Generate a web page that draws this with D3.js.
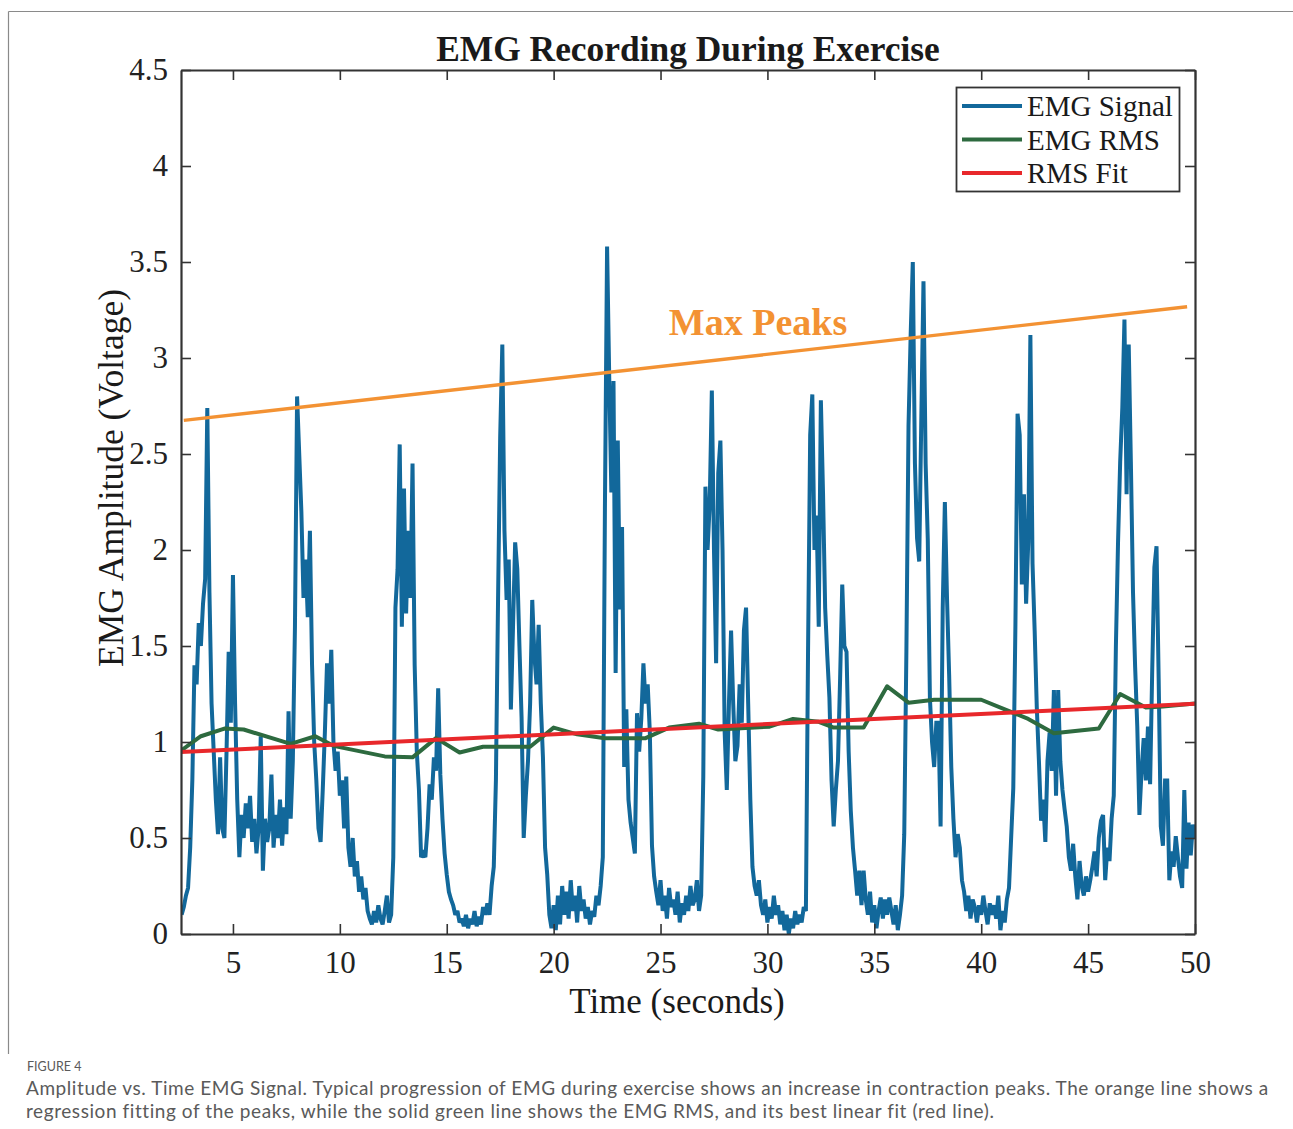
<!DOCTYPE html>
<html>
<head>
<meta charset="utf-8">
<script src="https://cdn.jsdelivr.net/npm/d3@7"></script>
<style>
  html, body { margin: 0; padding: 0; background: #ffffff; }
  svg { display: block; }
  .serif { font-family: "Liberation Serif", "Times New Roman", Times, serif; }
  .caption { font-family: Lato, "Open Sans", "Noto Sans", sans-serif; fill: #5a5a5a; }
</style>
</head>
<body>
<svg id="chart" width="1293" height="1129"></svg>
<script>
// ---- data -------------------------------------------------------------
// EMG signal sampled every 0.1 s starting at 2.6 s (amplitude in volts)
const emgStart = 2.6;
const emgStep = 0.1;
const emgSignal = [
  0.10, 0.14, 0.20, 0.24,
  0.45, 0.80, 1.40, 1.30, 1.62, 1.50, 1.72, 1.85, 2.74, 1.78,   // 3 s
  1.20, 0.95, 0.70, 0.52, 0.92, 0.55, 0.50, 0.95, 1.47, 1.10,   // 4 s
  1.87, 1.20, 0.70, 0.40, 0.62, 0.50, 0.68, 0.55, 0.72, 0.48,   // 5 s
  0.60, 0.42, 0.55, 1.03, 0.33, 0.60, 0.48, 0.55, 0.83, 0.45,   // 6 s
  0.62, 0.50, 0.70, 0.46, 0.66, 0.52, 1.16, 0.60, 0.90, 1.60,   // 7 s
  2.80, 2.50, 2.20, 1.75, 1.95, 1.65, 2.10, 1.40, 1.00, 0.80,   // 8 s
  0.55, 0.48, 0.75, 1.05, 1.41, 1.20, 1.48, 1.00, 0.85, 0.95,   // 9 s
  0.72, 0.80, 0.55, 0.82, 0.45, 0.35, 0.50, 0.30, 0.38, 0.22,   // 10 s
  0.30, 0.18, 0.24, 0.12, 0.08, 0.05, 0.12, 0.06, 0.15, 0.08,   // 11 s
  0.05, 0.12, 0.20, 0.06, 0.10, 0.40, 1.70, 1.90, 2.55, 1.60,   // 12 s
  2.32, 1.67, 2.10, 1.75, 2.45, 1.40, 0.95, 0.75, 0.40, 0.42,   // 13 s
  0.40, 0.55, 0.78, 0.70, 0.92, 0.85, 1.28, 0.83, 0.60, 0.42,   // 14 s
  0.31, 0.22, 0.18, 0.15, 0.10, 0.12, 0.06, 0.08, 0.04, 0.10,   // 15 s
  0.03, 0.08, 0.05, 0.12, 0.04, 0.09, 0.05, 0.14, 0.10, 0.16,   // 16 s
  0.10, 0.25, 0.35, 0.80, 1.74, 2.59, 3.07, 2.10, 1.74, 1.95,   // 17 s
  1.17, 1.60, 2.04, 1.90, 1.50, 1.13, 0.50, 0.72, 0.90, 1.20,   // 18 s
  1.74, 1.45, 1.30, 1.61, 1.20, 0.92, 0.45, 0.31, 0.10, 0.03,   // 19 s
  0.15, 0.02, 0.20, 0.05, 0.25, 0.10, 0.22, 0.08, 0.28, 0.12,   // 20 s
  0.20, 0.06, 0.25, 0.12, 0.18, 0.08, 0.14, 0.05, 0.12, 0.09,   // 21 s
  0.20, 0.15, 0.25, 0.40, 2.24, 3.58, 2.90, 2.30, 2.88, 1.36,   // 22 s
  2.57, 1.69, 2.12, 0.87, 1.17, 0.70, 0.58, 0.50, 0.42, 1.15,   // 23 s
  0.95, 1.12, 1.41, 1.20, 1.30, 1.05, 0.46, 0.30, 0.22, 0.15,   // 24 s
  0.28, 0.12, 0.20, 0.08, 0.24, 0.14, 0.18, 0.10, 0.22, 0.06,   // 25 s
  0.16, 0.10, 0.20, 0.12, 0.25, 0.15, 0.18, 0.28, 0.12, 0.20,   // 26 s
  0.82, 2.33, 2.00, 2.24, 2.83, 2.00, 1.41, 2.40, 2.57, 2.00,   // 27 s
  1.05, 0.75, 1.20, 1.58, 1.20, 0.90, 0.98, 1.30, 1.10, 1.58,   // 28 s
  1.70, 1.20, 0.70, 0.35, 0.25, 0.20, 0.28, 0.15, 0.10, 0.18,   // 29 s
  0.06, 0.14, 0.08, 0.20, 0.10, 0.15, 0.05, 0.12, 0.02, 0.10,   // 30 s
  0.00, 0.08, 0.03, 0.12, 0.05, 0.10, 0.06, 0.14, 0.12, 1.47,   // 31 s
  2.60, 2.81, 2.00, 2.18, 1.60, 2.78, 2.30, 1.70, 1.45, 1.23,   // 32 s
  0.80, 0.56, 0.75, 0.90, 1.33, 1.82, 1.50, 1.47, 0.95, 0.64,   // 33 s
  0.45, 0.33, 0.20, 0.33, 0.15, 0.33, 0.18, 0.10, 0.22, 0.06,   // 34 s
  0.15, 0.03, 0.12, 0.19, 0.08, 0.18, 0.10, 0.19, 0.12, 0.05,   // 35 s
  0.15, 0.02, 0.10, 0.20, 0.52, 1.47, 2.65, 3.12, 3.50, 2.45,   // 36 s
  2.06, 1.94, 2.70, 3.40, 2.45, 2.06, 1.23, 1.00, 0.87, 1.10,   // 37 s
  1.10, 0.56, 1.70, 2.25, 1.75, 1.35, 0.87, 0.60, 0.40, 0.52,   // 38 s
  0.45, 0.28, 0.22, 0.12, 0.20, 0.08, 0.18, 0.14, 0.06, 0.15,   // 39 s
  0.10, 0.20, 0.12, 0.05, 0.16, 0.10, 0.15, 0.08, 0.20, 0.02,   // 40 s
  0.12, 0.06, 0.18, 0.24, 0.50, 0.76, 1.61, 2.71, 2.60, 1.82,   // 41 s
  2.29, 1.72, 2.04, 3.12, 1.93, 1.58, 1.18, 0.90, 0.59, 0.70,   // 42 s
  0.48, 0.90, 1.05, 0.85, 1.27, 0.72, 1.27, 0.90, 0.75, 0.65,   // 43 s
  0.56, 0.40, 0.33, 0.47, 0.30, 0.18, 0.38, 0.25, 0.20, 0.30,   // 44 s
  0.22, 0.28, 0.35, 0.43, 0.30, 0.50, 0.59, 0.62, 0.28, 0.45,   // 45 s
  0.38, 0.60, 0.72, 1.50, 2.04, 2.46, 2.74, 3.20, 2.29, 3.07,   // 46 s
  2.46, 1.78, 1.39, 1.08, 0.62, 0.85, 1.02, 0.80, 1.08, 0.78,   // 47 s
  1.38, 1.91, 2.02, 1.33, 0.56, 0.46, 0.80, 0.80, 0.28, 0.43,   // 48 s
  0.35, 0.51, 0.40, 0.30, 0.24, 0.75, 0.34, 0.58, 0.41, 0.57,   // 49 s
  0.50
];

// windowed RMS of the signal: [time (s), amplitude (V)]
const rmsTimes  = [2.57, 3.5, 4.6, 5.5, 7.7, 8.85, 9.7, 12.1, 13.4, 14.5, 15.6, 16.7, 18.9, 20.0, 21.1, 22.4, 24.3, 25.4, 26.8, 27.7, 30.1, 31.2, 32.4, 33.1, 34.5, 35.6, 36.6, 37.8, 40.0, 42.2, 43.4, 45.5, 46.5, 47.7, 48.5, 50.0];
const rmsValues = [0.955, 1.03, 1.07, 1.065, 0.99, 1.03, 0.98, 0.925, 0.92, 1.02, 0.945, 0.975, 0.975, 1.075, 1.04, 1.02, 1.02, 1.075, 1.095, 1.065, 1.08, 1.12, 1.105, 1.075, 1.075, 1.29, 1.205, 1.22, 1.22, 1.12, 1.045, 1.07, 1.25, 1.18, 1.185, 1.20];

// linear fit of the RMS curve (end points)
const rmsFitTimes  = [2.57, 50.0];
const rmsFitValues = [0.948, 1.199];

// regression through the contraction peaks (end points)
const peakFitTimes  = [2.7, 49.63];
const peakFitValues = [2.675, 3.267];

// axes
const xDomain = [2.57, 50];
const yDomain = [0, 4.5];
const xTicks = [5, 10, 15, 20, 25, 30, 35, 40, 45, 50];
const yTicks = [0, 0.5, 1, 1.5, 2, 2.5, 3, 3.5, 4, 4.5];

const legendLabels = ["EMG Signal", "EMG RMS", "RMS Fit"];
const titleText = "EMG Recording During Exercise";
const xLabel = "Time (seconds)";
const yLabel = "EMG Amplitude (Voltage)";
const peakLabel = "Max Peaks";
const captionHead = "FIGURE 4";
const captionLines = [
  "Amplitude vs. Time EMG Signal. Typical progression of EMG during exercise shows an increase in contraction peaks. The orange line shows a",
  "regression fitting of the peaks, while the solid green line shows the EMG RMS, and its best linear fit (red line)."
];

// ---- styling ----------------------------------------------------------
const colors = {
  signal: "#12689b",
  rms: "#2d6a3f",
  fit: "#e8282b",
  peaks: "#f39233",
  axis: "#333333",
  text: "#1a1a1a"
};

const plot = { left: 181, right: 1195, top: 70, bottom: 934 };

// ---- drawing ----------------------------------------------------------
const svg = d3.select("#chart");

// figure frame (top and left rules)
svg.append("line").attr("x1", 8.5).attr("x2", 1293).attr("y1", 11.5).attr("y2", 11.5)
  .attr("stroke", "#8a8a8a").attr("stroke-width", 1.2);
svg.append("line").attr("x1", 8.5).attr("x2", 8.5).attr("y1", 11.5).attr("y2", 1054)
  .attr("stroke", "#8a8a8a").attr("stroke-width", 1.2);

const x = d3.scaleLinear().domain(xDomain).range([plot.left, plot.right]);
const y = d3.scaleLinear().domain(yDomain).range([plot.bottom, plot.top]);

const signalPoints = emgSignal.map((v, i) => [+(emgStart + i * emgStep).toFixed(2), v]);
const rmsPoints = rmsTimes.map((t, i) => [t, rmsValues[i]]);
const fitPoints = rmsFitTimes.map((t, i) => [t, rmsFitValues[i]]);
const peakPoints = peakFitTimes.map((t, i) => [t, peakFitValues[i]]);

const line = d3.line().x(d => x(d[0])).y(d => y(d[1]));

svg.append("defs").append("clipPath").attr("id", "plotClip")
  .append("rect")
  .attr("x", plot.left).attr("y", plot.top)
  .attr("width", plot.right - plot.left).attr("height", plot.bottom - plot.top);

const marks = svg.append("g").attr("clip-path", "url(#plotClip)");

marks.append("path").datum(signalPoints)
  .attr("d", line).attr("fill", "none")
  .attr("stroke", colors.signal).attr("stroke-width", 4)
  .attr("stroke-linejoin", "miter").attr("stroke-miterlimit", 2.5);

marks.append("path").datum(rmsPoints)
  .attr("d", line).attr("fill", "none")
  .attr("stroke", colors.rms).attr("stroke-width", 4)
  .attr("stroke-linejoin", "round");

marks.append("path").datum(fitPoints)
  .attr("d", line).attr("fill", "none")
  .attr("stroke", colors.fit).attr("stroke-width", 4);

marks.append("path").datum(peakPoints)
  .attr("d", line).attr("fill", "none")
  .attr("stroke", colors.peaks).attr("stroke-width", 3.4);

svg.append("text").attr("class", "serif")
  .attr("x", 758).attr("y", 335)
  .attr("text-anchor", "middle")
  .attr("font-size", 38).attr("font-weight", "bold")
  .attr("fill", colors.peaks)
  .text(peakLabel);

// axes: ticks point inward, box closed on all four sides
function styleAxis(g) {
  g.select(".domain").attr("stroke", colors.axis).attr("stroke-width", 2.2);
  g.selectAll(".tick line").attr("stroke", colors.axis).attr("stroke-width", 1.6);
  g.selectAll(".tick text").attr("class", "serif").attr("fill", "#222")
    .attr("font-size", 31).attr("font-family", null);
}

svg.append("g").attr("transform", `translate(0,${plot.bottom})`)
  .call(d3.axisBottom(x).tickValues(xTicks).tickSizeInner(-10).tickSizeOuter(0)
    .tickPadding(17).tickFormat(d => String(d)))
  .call(styleAxis);

svg.append("g").attr("transform", `translate(0,${plot.top})`)
  .call(d3.axisTop(x).tickValues(xTicks).tickSizeInner(-10).tickSizeOuter(0).tickFormat(""))
  .call(styleAxis);

svg.append("g").attr("transform", `translate(${plot.left},0)`)
  .call(d3.axisLeft(y).tickValues(yTicks).tickSizeInner(-10).tickSizeOuter(0)
    .tickPadding(13).tickFormat(d => String(d)))
  .call(styleAxis);

svg.append("g").attr("transform", `translate(${plot.right},0)`)
  .call(d3.axisRight(y).tickValues(yTicks).tickSizeInner(-10).tickSizeOuter(0).tickFormat(""))
  .call(styleAxis);

// titles
svg.append("text").attr("class", "serif")
  .attr("x", (plot.left + plot.right) / 2).attr("y", 61)
  .attr("text-anchor", "middle")
  .attr("font-size", 35.4).attr("font-weight", "bold").attr("fill", colors.text)
  .text(titleText);

svg.append("text").attr("class", "serif")
  .attr("x", 677).attr("y", 1013)
  .attr("text-anchor", "middle")
  .attr("font-size", 35).attr("fill", colors.text)
  .text(xLabel);

svg.append("text").attr("class", "serif")
  .attr("transform", "translate(123,478) rotate(-90)")
  .attr("text-anchor", "middle")
  .attr("font-size", 35.5).attr("fill", colors.text)
  .text(yLabel);

// legend
const legend = svg.append("g");
legend.append("rect")
  .attr("x", 956.5).attr("y", 87.5).attr("width", 223).attr("height", 104)
  .attr("fill", "#ffffff").attr("stroke", colors.axis).attr("stroke-width", 1.8);

const legendColors = [colors.signal, colors.rms, colors.fit];
const legendRows = d3.scalePoint().domain(legendLabels).range([106, 173]);

legendLabels.forEach((label, i) => {
  const ly = legendRows(label);
  legend.append("line")
    .attr("x1", 962).attr("x2", 1022).attr("y1", ly).attr("y2", ly)
    .attr("stroke", legendColors[i]).attr("stroke-width", 4);
  legend.append("text").attr("class", "serif")
    .attr("x", 1027).attr("y", ly + 10)
    .attr("font-size", 29).attr("fill", colors.text)
    .text(label);
});

// caption: 19px body, tracked out so the first line spans the text column
svg.append("text").attr("class", "caption")
  .attr("x", 27).attr("y", 1071)
  .attr("font-size", 12.5)
  .text(captionHead);

const captionWidth = 1243;
const captionTexts = captionLines.map((txt, i) =>
  svg.append("text").attr("class", "caption")
    .attr("x", 26).attr("y", 1095 + i * 23)
    .attr("font-size", 19)
    .text(txt));
const firstNode = captionTexts[0].node();
const tracking = Math.max(0, (captionWidth - firstNode.getComputedTextLength()) / (captionLines[0].length - 1));
captionTexts.forEach(t => t.attr("letter-spacing", tracking.toFixed(2)));
</script>
</body>
</html>
